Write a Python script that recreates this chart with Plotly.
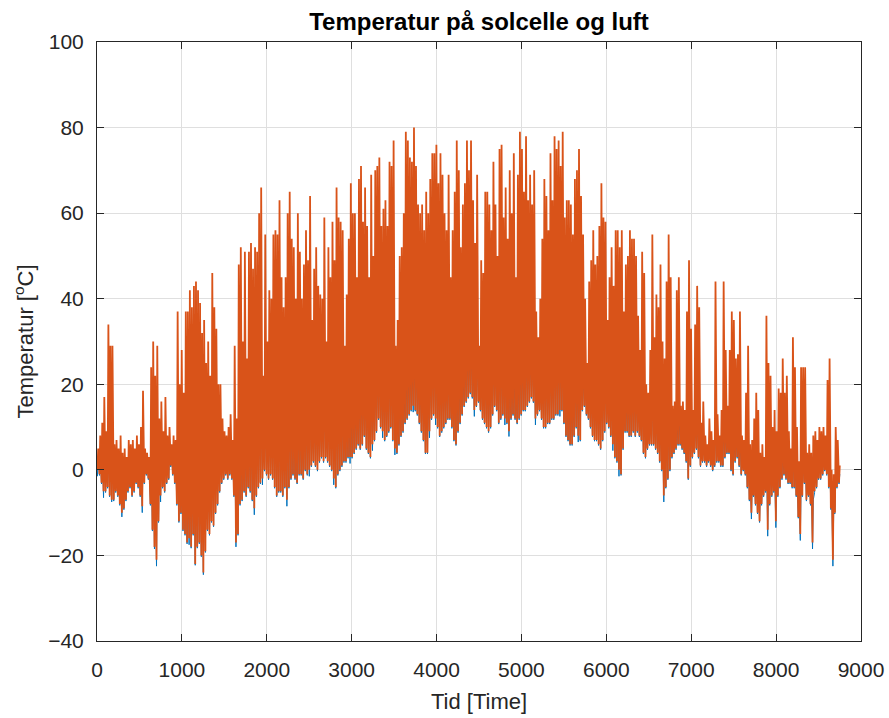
import plotly.graph_objects as go

# Daily extremes (one value per day, 365 days)
cell_max = [
    5, 8, 11, 17, 9, 34, 29, 29, 6, 7,
    5, 8, 4, 5, 3, 7, 6, 7, 5, 8,
    6, 10, 18.5, 5, 4, 3, 24, 30, 22, 29,
    12, 16, 9, 17, 8, 10, 6, 8, 7, 37,
    20, 28, 18, 37, 37, 42, 38, 43, 44, 42,
    39, 32, 35, 25, 30, 22, 46, 38, 33, 20,
    20, 12, 9, 8, 10, 13, 7, 29, 12, 48,
    52, 30, 51, 26, 51, 53, 47, 52, 51, 60,
    66, 22, 55, 30, 42, 40, 55, 56, 55, 63,
    45, 38, 45, 60, 65, 54, 52, 40, 60, 51,
    40, 48, 56, 49, 64, 35, 47, 52, 43, 41,
    40, 59, 30, 52, 45, 58, 49, 66, 59, 58,
    56, 29, 41, 54, 67, 60, 60, 45, 68, 71,
    58, 66, 57, 45, 69, 50, 70, 71, 73, 57,
    61, 63, 57, 72, 71, 77, 29, 35, 50, 52,
    60, 79, 77, 73, 72, 80, 71, 62, 60, 62,
    56, 65, 60, 68, 74, 74, 76, 67, 74, 69,
    60, 56, 69, 45, 56, 65, 77, 70, 52, 62,
    67, 77, 70, 77, 63, 53, 69, 29, 49, 46,
    65, 65, 62, 56, 72, 62, 50, 75, 76, 59,
    66, 54, 70, 60, 74, 45, 69, 79, 75, 65,
    78, 63, 69, 62, 70, 37, 31, 40, 54, 68,
    64, 56, 74, 63, 78, 75, 77, 71, 79, 59,
    63, 63, 62, 55, 68, 70, 75, 64, 55, 40,
    25, 44, 49, 56, 48, 50, 57, 67, 59, 58,
    35, 45, 52, 43, 56, 56, 52, 56, 37, 48,
    50, 56, 54, 54, 50, 36, 28, 51, 46, 20,
    18, 28, 55, 31, 41, 38, 48, 30, 26, 44,
    55, 45, 15, 16, 42, 45, 15, 16, 14, 37,
    49, 33, 14, 34, 43, 38, 11, 16, 8, 6,
    12, 9, 7, 44, 13, 8, 14, 44, 28, 15,
    28, 37, 35, 26, 27, 37, 8, 7, 18, 29,
    6, 7, 12, 18, 14, 4, 6, 3, 36, 25,
    22, 10, 14, 9, 19, 18, 26, 18, 22, 9,
    5, 31, 24, 10, 2, 24, 24, 24, 4, 6,
    4, 8, 9, 7, 10, 9, 10, 8, 21, 26,
    0, -1, 10, 7, 1,
]

cell_min = [
    0, -1, -3, -5, -5, -4, -6, -7, -7, -5,
    -6, -8, -10, -9, -7, -5, -4, -6, -5, -3,
    -4, -6, -8.5, -3, -1, -2, -8, -14, -18, -21,
    -12, -6, -4, -5, -3, -2, 1, -1, -3, -8,
    -12, -10, -14, -15, -17, -16, -18, -15, -22, -18,
    -17, -20, -24, -19, -14, -15, -12, -13, -10, -8,
    -5, -3, -2, -1, -2, -1, -2, -6, -17, -15,
    -8, -7, -5, -6, -4, -5, -7, -9, -6, -4,
    -3, -2, 0, -1, -2, -1, -2, -4, -6, -5,
    -5, -6, -4, -7, -4, -2, -1, -2, -3, -1,
    -1, -2, 0, -1, 0, 1, 2, 1, 0, 2,
    3, 2, 3, 2, 1, 0, -2, -4, -1, 0,
    1, 2, 2, 3, 3, 3, 4, 5, 6, 5,
    6, 8, 5, 4, 3, 6, 7, 9, 12, 10,
    9, 7, 8, 9, 10, 7, 5, 4, 6, 8,
    9, 11, 12, 13, 14, 15, 14, 13, 11, 9,
    7, 4, 4, 9, 12, 13, 12, 10, 8, 9,
    10, 11, 12, 12, 10, 7, 6, 9, 11, 13,
    15, 16, 17, 18, 17, 14, 15, 16, 14, 12,
    11, 10, 9, 10, 13, 15, 14, 11, 12, 13,
    12, 11, 9, 12, 13, 12, 11, 12, 13, 14,
    14, 15, 16, 17, 16, 12, 13, 14, 12, 10,
    10, 11, 11, 12, 12, 13, 13, 14, 14, 11,
    8, 7, 6, 6, 8, 10, 8, 7, 14, 15,
    13, 12, 10, 8, 7, 7, 6, 5, 7, 9,
    11, 10, 8, 6, 3, 2, 0, -1, 5, 9,
    9, 8, 8, 9, 8, 9, 8, 7, 4, 3,
    5, 6, 6, 6, 5, 4, 2, 0, -6, -4,
    -2, 0, 3, 4, 5, 6, 6, 5, 4, 2,
    -2, 1, 3, 4, 5, 3, 1, 2, 2, 1,
    2, 1, 0, 1, 2, 2, 1, 1, 3, 4,
    4, 0, -1, 2, 3, 1, -1, 0, -1, -4,
    -7, -10, -6, -8, -10, -12, -8, -6, -5, -14,
    -8, -6, -5, -12, -6, -4, -2, -1, -2, -3,
    -3, -4, -4, -6, -11, -15, -6, -3, -7, -6,
    -8, -17, -5, -4, -2, -2, -1, 0, -1, -4,
    -9, -21, -10, -4, -3,
]

air_max = [
    3, 4, 5, 6, 3, 8, 6, 5, 1, 2,
    1, 2, -2, -1, -1, 2, 2, 1, 1, 3,
    2, 3, 4, 2, 2, 1, 5, 4, 1, 2,
    2, 5, 3, 5, 3, 4, 4, 4, 3, 8,
    2, 4, 1, 6, 5, 7, 5, 8, 6, 7,
    6, 4, 3, 2, 5, 2, 9, 7, 7, 5,
    6, 5, 4, 4, 5, 6, 4, 8, 3, 12,
    10, 7, 11, 6, 12, 13, 11, 12, 12, 15,
    17, 8, 14, 9, 12, 11, 14, 14, 13, 16,
    13, 11, 13, 16, 17, 15, 15, 12, 16, 15,
    13, 15, 16, 15, 18, 12, 15, 16, 14, 14,
    14, 18, 11, 16, 15, 17, 15, 18, 17, 17,
    17, 12, 14, 16, 19, 18, 18, 16, 20, 21,
    19, 21, 19, 16, 20, 18, 22, 23, 25, 21,
    22, 22, 21, 24, 25, 26, 14, 15, 19, 20,
    21, 26, 26, 26, 26, 28, 26, 24, 22, 22,
    20, 20, 19, 23, 26, 27, 27, 24, 25, 24,
    22, 21, 25, 20, 21, 22, 25, 25, 21, 24,
    27, 29, 28, 30, 27, 24, 28, 21, 24, 22,
    24, 23, 22, 21, 26, 25, 22, 26, 27, 24,
    26, 22, 25, 24, 28, 22, 25, 28, 28, 26,
    29, 27, 28, 28, 28, 20, 19, 22, 24, 25,
    24, 22, 26, 24, 28, 28, 29, 28, 30, 24,
    23, 22, 21, 20, 24, 25, 25, 22, 22, 21,
    17, 20, 20, 21, 19, 19, 20, 22, 21, 22,
    18, 19, 20, 17, 19, 18, 17, 18, 15, 19,
    20, 21, 21, 21, 19, 16, 14, 19, 16, 9,
    10, 12, 18, 12, 14, 13, 14, 9, 6, 11,
    14, 12, 8, 9, 13, 14, 9, 9, 8, 11,
    12, 10, 7, 11, 13, 11, 5, 7, 5, 3,
    6, 4, 3, 11, 6, 4, 6, 11, 9, 8,
    9, 9, 8, 9, 9, 10, 3, 3, 5, 6,
    -2, -4, -1, 1, -2, -5, -3, -2, 5, -3,
    2, -1, 0, -3, 2, 2, 5, 4, 5, 1,
    0, 5, 3, -1, -6, -4, 3, 4, -2, -1,
    -2, -7, 0, 0, 2, 2, 3, 3, 5, 4,
    -4, -10, -2, 0, -1,
]

air_min = [
    -1.5, -1.3, -3.3, -6.5, -5.3, -4.3, -6.3, -7.5, -7.3, -5.3,
    -6.3, -8.3, -11, -9.3, -7.3, -5.3, -4.3, -6.3, -5.3, -3.3,
    -4.3, -6.3, -10, -3.3, -1.3, -2.3, -8.3, -14.3, -18.5, -22.5,
    -12.3, -7.5, -4.3, -5.3, -3.3, -2.3, 0.7, -1.3, -3.3, -8.3,
    -12.3, -10.3, -14.3, -15.3, -17.3, -17.5, -18.3, -15.3, -22.3, -18.3,
    -17.3, -20.3, -24.5, -19.3, -14.3, -15.3, -12.3, -13.3, -10.3, -8.3,
    -5.3, -3.3, -2.3, -1.3, -2.3, -1.3, -2.3, -6.3, -18, -15.3,
    -8.3, -7.3, -5.3, -6.3, -4.3, -5.3, -7.3, -10.5, -6.3, -4.3,
    -3.3, -3.5, -0.3, -1.3, -2.3, -1.3, -2.3, -4.3, -6.3, -5.3,
    -5.3, -6.3, -4.3, -8.5, -4.3, -2.3, -1.3, -2.3, -3.3, -1.3,
    -1.3, -2.3, -0.3, -1.3, -1.5, 0.7, 1.7, 0.7, -0.3, 1.7,
    2.7, 1.7, 2.7, 1.7, 0.7, -0.3, -3.5, -4.3, -1.3, -0.3,
    0.7, 1.7, 1.7, 2.7, 1.5, 2.7, 3.7, 4.7, 5.7, 4.7,
    5.7, 7.7, 4.7, 3.7, 2.7, 4.5, 6.7, 8.7, 11.7, 9.7,
    7.5, 6.7, 7.7, 8.7, 9.7, 6.7, 3.5, 3.7, 5.7, 7.7,
    8.7, 10.7, 11.7, 12.7, 13.7, 13.5, 13.7, 12.7, 10.7, 8.7,
    6.7, 3.7, 3.7, 7.5, 11.7, 12.7, 10.5, 9.7, 7.7, 8.7,
    9.7, 10.7, 11.7, 11.7, 9.7, 6.7, 5.7, 8.7, 10.7, 12.7,
    14.7, 15.7, 16.7, 17.7, 16.7, 12.5, 14.7, 15.7, 13.7, 11.7,
    10.7, 9.7, 8.7, 9.7, 12.7, 14.7, 13.7, 10.7, 11.7, 12.7,
    10.5, 10.7, 7.8, 11.7, 12.7, 11.7, 10.7, 11.7, 12.7, 13.7,
    13.7, 14.7, 15.7, 16.7, 15.7, 10.5, 12.7, 13.7, 11.7, 9.7,
    9.7, 10.7, 10.7, 11.7, 11.7, 12.7, 12.7, 12.5, 13.7, 10.7,
    7.7, 6.7, 5.7, 5.7, 7.7, 9.7, 6.5, 6.7, 13.7, 14.7,
    12.7, 11.7, 9.7, 7.7, 6.7, 6.7, 5.7, 4.7, 6.7, 8.7,
    10.7, 9.7, 7.7, 4.5, 2.7, 1.7, -1.5, -1.3, 4.7, 8.7,
    8.7, 7.7, 7.7, 8.7, 7.7, 8.7, 7.7, 6.7, 3.7, 2.7,
    4.7, 5.7, 5.7, 5.7, 4.7, 3.7, 1.7, -0.3, -7.5, -4.3,
    -2.3, -0.3, 2.7, 3.7, 4.7, 5.7, 5.7, 4.7, 3.7, 1.7,
    -2.3, 0.7, 2.7, 3.7, 4.7, 2.7, 0.7, 1.7, 1.7, 0.7,
    1.7, 0.7, -0.3, 0.7, 1.7, 1.7, 0.7, 0.7, 2.7, 3.7,
    3.7, -0.3, -1.3, 1.7, 2.7, 0.7, -1.3, -0.3, -1.3, -4.3,
    -7.3, -11.5, -6.3, -8.3, -10.3, -12.3, -8.3, -6.3, -5.3, -15.5,
    -8.3, -6.3, -5.3, -13.5, -6.3, -4.3, -2.3, -1.3, -2.3, -3.3,
    -3.3, -4.3, -4.3, -6.3, -11.3, -16.5, -6.3, -3.3, -7.3, -6.3,
    -8.3, -18.5, -5.3, -4.3, -2.3, -2.3, -1.3, -0.3, -1.3, -4.3,
    -9.3, -22.5, -10.3, -4.3, -3.3,
]

HOURS_PER_DAY = 24
MIN_HOUR = 5    # hour of day for the nightly minimum
MAX_HOUR = 14   # hour of day for the daytime maximum

x_ticks = list(range(0, 9001, 1000))
y_ticks = list(range(-40, 101, 20))


def day_series(mins, maxs):
    xs, ys = [], []
    for d, (lo, hi) in enumerate(zip(mins, maxs)):
        xs += [d * HOURS_PER_DAY + MIN_HOUR, d * HOURS_PER_DAY + MAX_HOUR]
        ys += [lo, hi]
    return xs, ys


ax_x, ax_y = day_series(air_min, air_max)
cx_x, cx_y = day_series(cell_min, cell_max)

fig = go.Figure()
fig.add_trace(go.Scatter(x=ax_x, y=ax_y, mode="lines", name="Luft",
                         line=dict(color="#0072BD", width=1.0)))
fig.add_trace(go.Scatter(x=cx_x, y=cx_y, mode="lines", name="Solcelle",
                         line=dict(color="#D95319", width=1.8)))

FONT = "Liberation Sans, Arial, sans-serif"
axis_font = dict(family=FONT, size=21, color="#262626")
common = dict(showline=True, linecolor="#262626", linewidth=1, mirror="ticks",
              ticks="inside", ticklen=7, tickcolor="#262626",
              showgrid=True, gridcolor="#DFDFDF", gridwidth=1,
              zeroline=False, tickfont=axis_font, automargin=False)

fig.update_layout(
    width=889, height=718,
    margin=dict(l=97, r=28, t=42, b=77),
    paper_bgcolor="white", plot_bgcolor="white",
    showlegend=False,
    title=dict(text="<b>Temperatur på solcelle og luft</b>",
               x=0.5, xanchor="center", xref="paper",
               y=1 - 22 / 718, yanchor="middle",
               font=dict(family=FONT, size=24, color="black")),
    xaxis=dict(range=[0, 9000], tickvals=x_ticks, ticklabelstandoff=10,
               title=dict(text="Tid [Time]", standoff=13,
                          font=dict(family=FONT, size=22, color="#262626")),
               **common),
    yaxis=dict(range=[-40, 100], tickvals=y_ticks, ticklabelstandoff=8,
               title=dict(text="Temperatur [<sup>o</sup>C]", standoff=8,
                          font=dict(family=FONT, size=22, color="#262626")),
               **common),
)

fig.write_html("out.html")
